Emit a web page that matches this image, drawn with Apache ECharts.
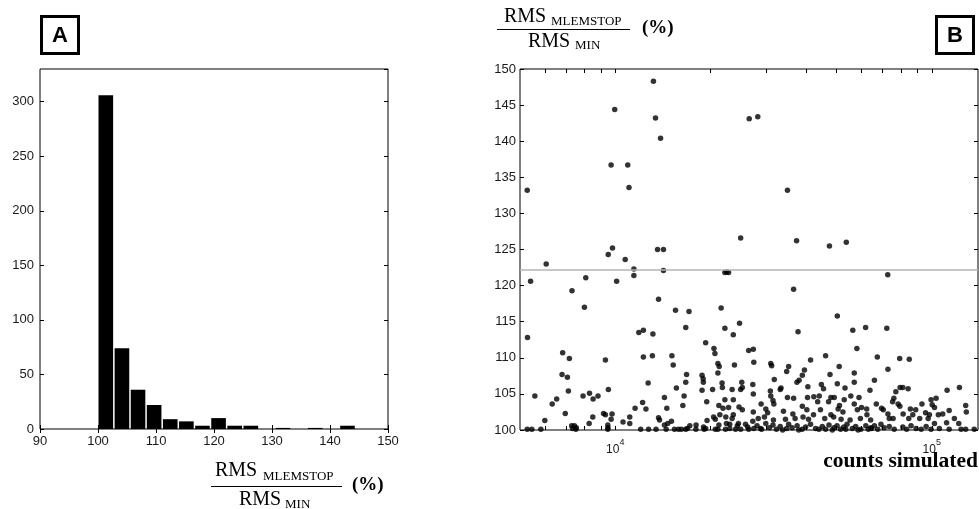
<!DOCTYPE html>
<html>
<head>
<meta charset="utf-8">
<title>RMS ratio histogram and scatter</title>
<script src="https://cdn.jsdelivr.net/npm/echarts@6/dist/echarts.min.js"></script>
<style>
  html, body { margin: 0; padding: 0; background: #fff; }
  #chart { width: 979px; height: 509px; }
</style>
</head>
<body>
<div id="chart"></div>
<script>
// panel A: histogram of RMS_MLEMSTOP / RMS_MIN (%)
const binEdges = [100, 102.78, 105.56, 108.33, 111.11, 113.89, 116.67, 119.44, 122.22, 125,
  127.78, 130.56, 133.33, 136.11, 138.89, 141.67, 144.44, 147.22, 150];
const binCounts = [306, 74, 36, 22, 9, 7, 3, 10, 3, 3, 0, 1, 0, 1, 0, 3, 0, 0];

// panel B: [counts simulated, RMS ratio %]
const scatterPts = [
  // upper part
  [13200, 148.3], [9960, 144.4], [13400, 143.2], [26500, 143.1], [28200, 143.4], [13900, 140.4],
  [9700, 136.7], [10950, 136.7], [11050, 133.6], [5270, 133.2], [35000, 133.2], [24900, 126.6],
  [37400, 126.2], [47500, 125.5], [53700, 126.0], [9800, 125.2], [9500, 124.3], [13600, 125.0],
  [14200, 125.0], [6050, 123.0], [10750, 123.6], [11450, 122.3], [14200, 122.1], [22200, 121.8],
  [22500, 121.9], [22800, 121.8], [5400, 120.6], [10100, 120.6], [11450, 121.4], [8070, 121.1],
  [7300, 119.3], [36600, 119.5], [72600, 121.5], [13700, 118.1],
  // 5000 - 12000
  [7990, 117.0], [5280, 112.8], [6820, 110.7], [7160, 109.9], [9310, 109.7], [6790, 107.7],
  [7060, 107.3], [7110, 105.4], [8290, 105.1], [9510, 105.6], [5570, 104.7], [7910, 104.7],
  [8510, 104.3], [8820, 104.7], [6530, 104.3], [6320, 103.6], [6950, 102.3], [5990, 101.3],
  [8490, 101.8], [9180, 102.3], [9310, 102.1], [9770, 102.2], [9700, 101.5], [8270, 100.9],
  [9470, 100.7], [9480, 100.3], [10580, 101.1], [11110, 101.8], [11110, 100.9], [11550, 103.0],
  [7280, 100.6], [5270, 100.1], [5450, 100.1], [5820, 100.1], [7330, 100.2], [7510, 100.1],
  [9470, 100.1], [7430, 100.6], [7530, 100.3],
  // 12000 - 28000
  [15500, 116.6], [17100, 116.4], [21600, 116.9], [11870, 113.5], [12270, 113.8], [13150, 113.3],
  [16700, 114.2], [22200, 114.1], [24700, 114.8], [23600, 113.2], [19300, 112.1], [20500, 111.3],
  [20650, 110.6], [12270, 110.1], [13100, 110.3], [15100, 110.3], [15240, 109.0], [21100, 109.2],
  [21300, 108.8], [23800, 109.0], [26400, 111.0], [27300, 111.2], [27400, 109.4], [16800, 107.7],
  [16700, 106.6], [18800, 107.6], [18950, 107.1], [18980, 106.6], [21100, 107.9], [21750, 106.5],
  [21800, 105.9], [25100, 106.6], [25200, 105.9], [24900, 105.6], [27200, 106.3], [12700, 106.5],
  [15600, 105.8], [18800, 105.5], [20300, 105.6], [23400, 105.6], [16500, 104.7], [14300, 104.5],
  [22200, 104.2], [23600, 104.2], [12200, 103.8], [12500, 102.9], [14550, 103.0], [16350, 103.4],
  [19450, 103.9], [21250, 103.4], [21900, 103.0], [22800, 103.1], [24600, 103.2], [25200, 102.8],
  [27300, 102.5], [21400, 102.1], [22350, 101.8], [23600, 102.1], [20450, 101.8], [20700, 101.5],
  [13700, 101.7], [13800, 101.4], [15050, 101.2], [14650, 100.9], [14300, 100.7], [19500, 101.3],
  [23400, 101.6], [22450, 100.9], [23000, 100.8], [24500, 100.9], [25800, 100.8], [27200, 101.2],
  [18000, 100.7], [17200, 100.6], [19000, 100.4], [21250, 100.7], [24300, 100.6], [26200, 100.4],
  [12030, 100.1], [12740, 100.1], [13450, 100.1], [14480, 100.1], [15380, 100.1], [15830, 100.1],
  [16170, 100.1], [16690, 100.1], [16900, 100.2], [17980, 100.1], [19080, 100.1], [19310, 100.2],
  [20710, 100.1], [21100, 100.1], [22300, 100.1], [23000, 100.2], [24000, 100.1], [24900, 100.1],
  [26400, 100.1], [27400, 100.2],
  // 28000 - 64000
  [50300, 115.8], [37800, 113.6], [56300, 113.8], [61800, 114.2], [58000, 111.3], [46200, 110.3],
  [41400, 109.7], [31000, 109.2], [31200, 108.9], [35300, 108.8], [34800, 108.1], [39600, 108.3],
  [39000, 107.6], [38100, 106.9], [37500, 106.6], [47700, 107.7], [51000, 108.8], [56900, 107.9],
  [56900, 106.6], [31800, 107.0], [40600, 106.0], [44800, 106.3], [45500, 105.7], [50300, 106.4],
  [53200, 105.8], [63800, 105.5], [33400, 105.8], [33200, 105.6], [30900, 105.4], [27300, 105.0],
  [31000, 104.7], [35000, 104.5], [36600, 104.4], [40500, 104.5], [42400, 104.6], [44100, 104.7],
  [48000, 104.5], [49200, 104.5], [52900, 104.2], [55500, 104.7], [58900, 104.5], [28900, 103.6],
  [31500, 104.1], [31700, 103.6], [39000, 103.3], [43600, 103.9], [47200, 103.9], [51100, 103.4],
  [56900, 103.6], [60000, 103.1], [29900, 102.9], [30300, 102.4], [34000, 102.6], [36400, 102.2],
  [40300, 102.8], [42300, 102.1], [44500, 102.8], [48000, 102.1], [50600, 102.9], [52400, 102.5],
  [58200, 102.8], [62300, 102.9], [62400, 102.1], [28300, 101.6], [29600, 101.8], [31600, 101.4],
  [34500, 101.5], [37000, 101.6], [39200, 101.8], [40800, 101.5], [45900, 101.6], [49000, 101.8],
  [51700, 101.5], [55200, 101.4], [59500, 101.6], [64100, 101.4],
  [28050, 100.6], [28750, 100.2], [29900, 100.9], [30700, 100.3], [31500, 100.7], [32300, 100.1],
  [33200, 100.5], [34800, 100.2], [35300, 100.8], [36200, 100.3], [37550, 100.6], [38950, 100.1],
  [39950, 100.4], [41400, 100.8], [42950, 100.2], [45100, 100.5], [46200, 100.1], [47350, 100.7],
  [49100, 100.3], [50200, 100.6], [51500, 100.1], [52750, 100.4], [54000, 100.8], [56100, 100.2],
  [57500, 100.5], [59700, 100.1], [61900, 100.6], [64200, 100.3], [29000, 100.1], [33800, 100.0],
  [38000, 100.0], [44000, 100.1], [48500, 100.0], [53500, 100.1], [58500, 100.0], [63000, 100.1],
  // 64000 - 140000
  [72100, 114.1], [67300, 110.1], [79200, 109.9], [84900, 109.8], [72700, 108.4], [65900, 106.9],
  [77000, 105.3], [79400, 105.9], [81000, 105.9], [84200, 105.7], [111800, 105.5], [122300, 105.9],
  [66800, 103.6], [69400, 103.0], [70300, 102.8], [75900, 104.4], [75200, 103.9], [78300, 103.6],
  [79300, 103.3], [81200, 102.2], [85600, 102.9], [89000, 102.8], [93100, 103.6], [99500, 104.2],
  [103200, 104.4], [100300, 103.5], [102000, 103.1], [95600, 102.4], [98300, 102.1], [104900, 102.1],
  [108300, 102.2], [113500, 102.7], [128000, 103.4], [128600, 102.5], [72700, 102.2], [73400, 101.6],
  [75500, 101.6], [84600, 101.6], [87100, 102.1], [91600, 101.6], [97400, 101.6], [117900, 101.6],
  [111400, 101.0], [121700, 100.9], [102000, 100.9],
  [64500, 100.2], [65900, 100.6], [67500, 100.1], [69100, 100.8], [70700, 100.3], [73400, 100.5],
  [76100, 100.1], [81000, 100.4], [83300, 100.1], [86000, 100.6], [89200, 100.2], [92600, 100.1],
  [96000, 100.5], [99500, 100.1], [105700, 100.2], [113500, 100.1], [123800, 100.1], [128000, 100.1],
  [136200, 100.1]
];
const refLevel = 122.2;
const logMinorTicks = [6000, 7000, 8000, 9000, 10000, 20000, 30000, 40000, 50000, 60000,
  70000, 80000, 90000, 100000];
const logLabels = [10000, 100000];

const histData = binCounts.map((c, i) => [binEdges[i], binEdges[i + 1], c]);

const chart = echarts.init(document.getElementById('chart'), null, {renderer: 'canvas'});

const labelFont = {fontFamily: 'Liberation Sans, Arial, sans-serif', fontSize: 13, color: '#1a1a1a'};
const serif = 'Liberation Serif, Times New Roman, serif';
const tickStyle = {show: true, inside: true, length: 4, lineStyle: {color: '#000', width: 1}};

const option = {
  animation: false,
  backgroundColor: '#fff',
  grid: [
    {left: 40, top: 69, width: 348, height: 360, show: true, borderColor: '#000', borderWidth: 1, backgroundColor: '#fff'},
    {left: 520, top: 69, width: 458, height: 361, show: true, borderColor: '#000', borderWidth: 1, backgroundColor: '#fff'}
  ],
  xAxis: [
    {
      gridIndex: 0, type: 'value', min: 90, max: 150, interval: 10, position: 'bottom',
      axisLine: {show: false}, axisTick: tickStyle, splitLine: {show: false},
      axisLabel: Object.assign({margin: 6}, labelFont)
    },
    {
      gridIndex: 0, type: 'value', min: 90, max: 150, interval: 10, position: 'top',
      axisLine: {show: false}, axisTick: tickStyle, splitLine: {show: false}, axisLabel: {show: false}
    },
    {
      gridIndex: 1, type: 'log', logBase: 10, min: 5000, max: 140000, position: 'bottom',
      axisLine: {show: false}, splitLine: {show: false},
      axisTick: Object.assign({customValues: logMinorTicks}, tickStyle),
      axisLabel: {
        customValues: logLabels, margin: 8,
        formatter: v => '{b|10}{s|' + Math.round(Math.log10(v)) + '}',
        rich: {
          b: {fontFamily: labelFont.fontFamily, fontSize: 12, color: '#1a1a1a', lineHeight: 18, verticalAlign: 'bottom'},
          s: {fontFamily: labelFont.fontFamily, fontSize: 9, color: '#1a1a1a', lineHeight: 18, verticalAlign: 'top'}
        }
      }
    },
    {
      gridIndex: 1, type: 'log', logBase: 10, min: 5000, max: 140000, position: 'top',
      axisLine: {show: false}, splitLine: {show: false},
      axisTick: Object.assign({customValues: logMinorTicks}, tickStyle), axisLabel: {show: false}
    }
  ],
  yAxis: [
    {
      gridIndex: 0, type: 'value', min: 0, max: 330, interval: 50, position: 'left',
      axisLine: {show: false}, axisTick: tickStyle, splitLine: {show: false},
      axisLabel: Object.assign({margin: 6, showMaxLabel: false}, labelFont)
    },
    {
      gridIndex: 0, type: 'value', min: 0, max: 330, interval: 50, position: 'right',
      axisLine: {show: false}, axisTick: tickStyle, splitLine: {show: false}, axisLabel: {show: false}
    },
    {
      gridIndex: 1, type: 'value', min: 100, max: 150, interval: 5, position: 'left',
      axisLine: {show: false}, axisTick: tickStyle, splitLine: {show: false},
      axisLabel: Object.assign({margin: 4}, labelFont)
    },
    {
      gridIndex: 1, type: 'value', min: 100, max: 150, interval: 5, position: 'right',
      axisLine: {show: false}, axisTick: tickStyle, splitLine: {show: false}, axisLabel: {show: false}
    }
  ],
  series: [
    {
      type: 'custom',
      xAxisIndex: 0,
      yAxisIndex: 0,
      data: histData,
      encode: {x: [0, 1], y: 2},
      renderItem: (params, api) => {
        const h = api.value(2);
        if (!h) return null;
        const topLeft = api.coord([api.value(0), h]);
        const bottomRight = api.coord([api.value(1), 0]);
        return {
          type: 'rect',
          shape: {
            x: topLeft[0] + 0.5,
            y: topLeft[1],
            width: bottomRight[0] - topLeft[0] - 1.5,
            height: bottomRight[1] - topLeft[1]
          },
          style: {fill: '#000'}
        };
      }
    },
    {
      type: 'scatter',
      xAxisIndex: 2,
      yAxisIndex: 2,
      data: scatterPts,
      symbol: 'circle',
      symbolSize: 5.5,
      itemStyle: {color: '#000'},
      markLine: {
        silent: true,
        symbol: ['none', 'none'],
        label: {show: false},
        lineStyle: {color: '#b4b4b4', width: 1.5, type: 'solid'},
        data: [{yAxis: refLevel}]
      }
    }
  ],
  graphic: [
    // panel tags
    {type: 'rect', shape: {x: 41.5, y: 16.5, width: 37, height: 37}, style: {fill: 'none', stroke: '#000', lineWidth: 3}},
    {type: 'text', x: 60, y: 36, style: {text: 'A', fontFamily: 'Liberation Sans, Arial, sans-serif', fontWeight: 'bold', fontSize: 22, fill: '#000', align: 'center', verticalAlign: 'middle'}},
    {type: 'rect', shape: {x: 936.5, y: 16.5, width: 37, height: 37}, style: {fill: 'none', stroke: '#000', lineWidth: 3}},
    {type: 'text', x: 955, y: 36, style: {text: 'B', fontFamily: 'Liberation Sans, Arial, sans-serif', fontWeight: 'bold', fontSize: 22, fill: '#000', align: 'center', verticalAlign: 'middle'}},
    // panel A x-axis title
    {type: 'text', x: 215, y: 471, style: {text: 'RMS', fontFamily: serif, fontSize: 20, fill: '#000', align: 'left', verticalAlign: 'middle'}},
    {type: 'text', x: 263, y: 477, style: {text: 'MLEMSTOP', fontFamily: serif, fontSize: 13, fill: '#000', align: 'left', verticalAlign: 'middle'}},
    {type: 'line', shape: {x1: 211, y1: 486.5, x2: 342, y2: 486.5}, style: {stroke: '#000', lineWidth: 1}},
    {type: 'text', x: 239, y: 500, style: {text: 'RMS', fontFamily: serif, fontSize: 20, fill: '#000', align: 'left', verticalAlign: 'middle'}},
    {type: 'text', x: 285, y: 505, style: {text: 'MIN', fontFamily: serif, fontSize: 13, fill: '#000', align: 'left', verticalAlign: 'middle'}},
    {type: 'text', x: 352, y: 485, style: {text: '(%)', fontFamily: serif, fontWeight: 'bold', fontSize: 19, fill: '#000', align: 'left', verticalAlign: 'middle'}},
    // panel B y-axis title
    {type: 'text', x: 504, y: 17, style: {text: 'RMS', fontFamily: serif, fontSize: 20, fill: '#000', align: 'left', verticalAlign: 'middle'}},
    {type: 'text', x: 551, y: 22, style: {text: 'MLEMSTOP', fontFamily: serif, fontSize: 13, fill: '#000', align: 'left', verticalAlign: 'middle'}},
    {type: 'line', shape: {x1: 497, y1: 29.5, x2: 630, y2: 29.5}, style: {stroke: '#000', lineWidth: 1}},
    {type: 'text', x: 528, y: 42, style: {text: 'RMS', fontFamily: serif, fontSize: 20, fill: '#000', align: 'left', verticalAlign: 'middle'}},
    {type: 'text', x: 575, y: 46, style: {text: 'MIN', fontFamily: serif, fontSize: 13, fill: '#000', align: 'left', verticalAlign: 'middle'}},
    {type: 'text', x: 642, y: 28, style: {text: '(%)', fontFamily: serif, fontWeight: 'bold', fontSize: 19, fill: '#000', align: 'left', verticalAlign: 'middle'}},
    // panel B x-axis title
    {type: 'text', x: 978, y: 461, style: {text: 'counts simulated', fontFamily: serif, fontWeight: 'bold', fontSize: 21.5, fill: '#000', align: 'right', verticalAlign: 'middle'}}
  ]
};

chart.setOption(option);
</script>
</body>
</html>
